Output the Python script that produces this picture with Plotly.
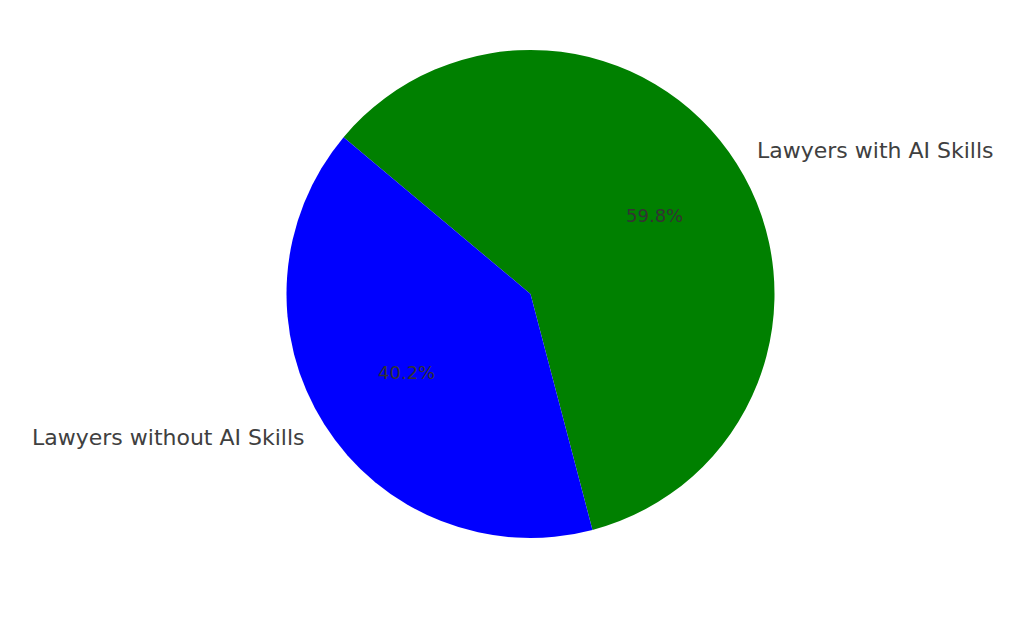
import math
import plotly.graph_objects as go

labels = ["Lawyers with AI Skills", "Lawyers without AI Skills"]
values = [59.8, 40.2]
colors = ["#008000", "#0000ff"]

W, H = 1024, 621
PAGE_MARGIN = 8  # browser body margin shifts the figure
# pie placement in (screenshot) pixels
cx, cy, r = 530.5 - PAGE_MARGIN, 294 - PAGE_MARGIN, 244
start_angle = 140  # degrees, counterclockwise from 3 o'clock

fig = go.Figure(go.Pie(
    labels=labels,
    values=values,
    marker=dict(colors=colors, line=dict(width=0)),
    sort=False,
    direction="clockwise",
    rotation=90 - start_angle,
    textinfo="none",
    hoverinfo="label+percent",
    showlegend=False,
    domain=dict(x=[(cx - r) / W, (cx + r) / W], y=[1 - (cy + r) / H, 1 - (cy - r) / H]),
))

# labels outside at 1.1 r, percentages inside at 0.6 r
total = sum(values)
ang = start_angle
for lab, v in zip(labels, values):
    span = 360 * v / total
    mid = math.radians(ang - span / 2)
    ang -= span
    right = math.cos(mid) > 0
    lx = cx + 1.1 * r * math.cos(mid)
    ly = cy - 1.1 * r * math.sin(mid)
    fig.add_annotation(
        x=lx / W, y=1 - ly / H, xref="paper", yref="paper",
        text=lab, showarrow=False,
        xanchor="left" if right else "right", yanchor="middle",
        xshift=-1 if right else 2, borderpad=0,
        font=dict(family="DejaVu Sans", size=22, color="#404040"),
    )
    px = cx + 0.6 * r * math.cos(mid)
    py = cy - 0.6 * r * math.sin(mid)
    fig.add_annotation(
        x=px / W, y=1 - py / H, xref="paper", yref="paper",
        text=f"{100 * v / total:.1f}%", showarrow=False,
        xanchor="center", yanchor="middle",
        font=dict(family="DejaVu Sans", size=18, color="#333333"),
    )

fig.update_layout(
    width=W, height=H,
    margin=dict(l=0, r=0, t=0, b=0),
    paper_bgcolor="white",
    plot_bgcolor="white",
)

fig.write_html("out.html")
